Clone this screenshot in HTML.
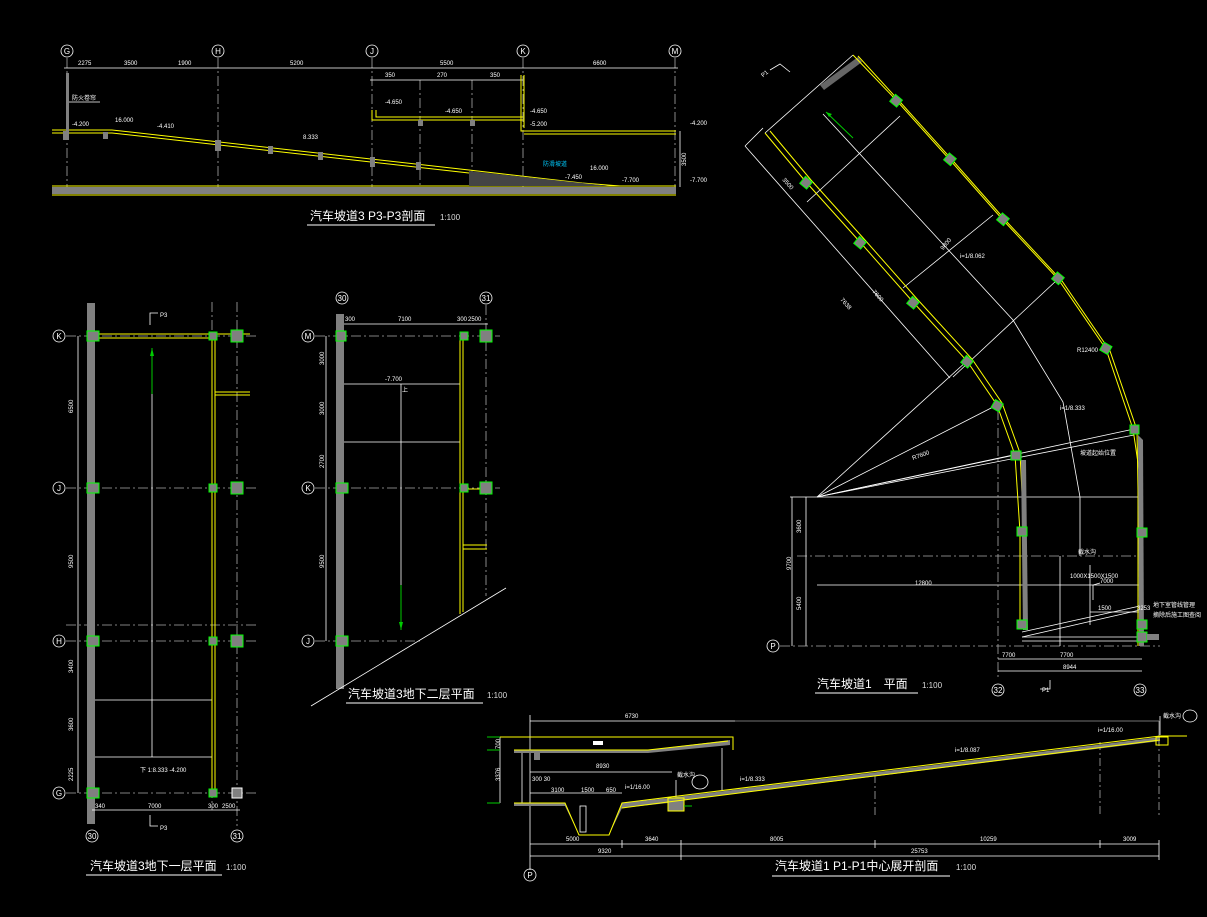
<!DOCTYPE html>
<html><head><meta charset="utf-8"><style>
html,body{margin:0;padding:0;background:#000;}
svg{display:block;}
text{font-family:"Liberation Sans","Noto Sans CJK SC",sans-serif;fill:#fff;}
.t{font-size:12px;}
.s{font-size:6px;}
.c{font-size:8px;text-anchor:middle;}
.sc{font-size:8px;fill:#ddd;}
</style></head><body>
<svg width="1207" height="917" viewBox="0 0 1207 917" xmlns="http://www.w3.org/2000/svg">
<rect width="1207" height="917" fill="#000"/>
<g fill="none" stroke="#fff" stroke-width="0.8">
<g stroke="#aaa" stroke-dasharray="10,3,2,3">
<line x1="67" y1="58" x2="67" y2="190"/><line x1="218" y1="58" x2="218" y2="190"/>
<line x1="372" y1="58" x2="372" y2="190"/><line x1="523" y1="58" x2="523" y2="190"/>
<line x1="675" y1="58" x2="675" y2="190"/><line x1="420" y1="80" x2="420" y2="190"/><line x1="472" y1="80" x2="472" y2="190"/>
</g>
<circle cx="67" cy="51" r="6"/><circle cx="218" cy="51" r="6"/><circle cx="372" cy="51" r="6"/><circle cx="523" cy="51" r="6"/><circle cx="675" cy="51" r="6"/>
<line x1="64" y1="68" x2="678" y2="68"/><line x1="370" y1="80" x2="523" y2="80"/>
<line x1="680" y1="131" x2="680" y2="187"/>
<line x1="66" y1="102" x2="100" y2="102"/>
</g>
<text x="67" y="54" class="c">G</text><text x="218" y="54" class="c">H</text><text x="372" y="54" class="c">J</text><text x="523" y="54" class="c">K</text><text x="675" y="54" class="c">M</text>
<g font-size="6">
<text x="78" y="65" class="s">2275</text><text x="124" y="65" class="s">3500</text><text x="178" y="65" class="s">1900</text><text x="290" y="65" class="s">5200</text>
<text x="440" y="65" class="s">5500</text><text x="593" y="65" class="s">6600</text>
<text x="385" y="77" class="s">350</text><text x="437" y="77" class="s">270</text><text x="490" y="77" class="s">350</text>
<text x="72" y="100" class="s">防火卷帘</text><text x="72" y="126" class="s">-4.200</text><text x="115" y="122" class="s">16.000</text><text x="157" y="128" class="s">-4.410</text>
<text x="303" y="139" class="s">8.333</text><text x="385" y="104" class="s">-4.650</text><text x="445" y="113" class="s">-4.650</text><text x="530" y="113" class="s">-4.650</text><text x="530" y="126" class="s">-5.200</text>
<text x="690" y="125" class="s">-4.200</text><text x="690" y="182" class="s">-7.700</text><text x="678" y="162" class="s" transform="rotate(-90 684 160)">3500</text>
<text x="543" y="166" class="s" style="fill:#0cf">防滑坡道</text><text x="590" y="170" class="s">16.000</text><text x="565" y="179" class="s">-7.450</text><text x="622" y="182" class="s">-7.700</text>
</g>
<rect x="52" y="187" width="624" height="7" fill="#808080"/>
<g stroke="#ff0" stroke-width="1" fill="none">
<line x1="52" y1="186" x2="676" y2="186"/><line x1="52" y1="195" x2="676" y2="195"/>
<polyline points="52,130 112,130 469,170 582,183 620,186"/>
<polyline points="52,133 112,133 469,173"/>
<polyline points="372,110 372,120 523,120"/><polyline points="376,110 376,117 523,117"/>
<polyline points="521,75 521,131 676,131"/><polyline points="524,75 524,128"/><line x1="524" y1="134" x2="676" y2="134"/>
</g>
<path d="M469 171 L582 183 L610 186 L469 186 Z" fill="#444"/>
<g fill="#808080"><rect x="63" y="131" width="6" height="9"/><rect x="103" y="132" width="5" height="7"/><rect x="215" y="140" width="6" height="11"/><rect x="268" y="146" width="5" height="8"/><rect x="318" y="152" width="5" height="8"/><rect x="370" y="157" width="5" height="10"/><rect x="416" y="162" width="5" height="8"/><rect x="418" y="120" width="5" height="6"/><rect x="470" y="120" width="5" height="6"/><rect x="66" y="73" width="3" height="60"/></g>
<text x="310" y="220" class="t">汽车坡道3 P3-P3剖面</text><text x="440" y="220" class="sc">1:100</text>
<line x1="307" y1="225" x2="435" y2="225" stroke="#fff"/>

<g stroke="#aaa" stroke-dasharray="10,3,2,3" stroke-width="0.8" fill="none">
<line x1="66" y1="336" x2="259" y2="336"/><line x1="66" y1="488" x2="259" y2="488"/><line x1="66" y1="641" x2="259" y2="641"/><line x1="66" y1="793" x2="259" y2="793"/><line x1="66" y1="625" x2="259" y2="625"/>
<line x1="212" y1="302" x2="212" y2="810"/><line x1="237" y1="302" x2="237" y2="826"/>
</g>
<rect x="87" y="303" width="8" height="521" fill="#808080"/>
<g stroke="#fff" stroke-width="0.8" fill="none">
<circle cx="59" cy="336" r="6"/><circle cx="59" cy="488" r="6"/><circle cx="59" cy="641" r="6"/><circle cx="59" cy="793" r="6"/>
<circle cx="92" cy="836" r="6"/><circle cx="237" cy="836" r="6"/>
<line x1="78" y1="336" x2="78" y2="793"/><line x1="92" y1="810" x2="240" y2="810"/>
<line x1="95" y1="700" x2="212" y2="700"/><line x1="95" y1="757" x2="212" y2="757"/>
<line x1="152" y1="394" x2="152" y2="757"/>
<polyline points="150,325 150,313 158,313"/><polyline points="150,815 150,826 158,826"/>
</g>
<text x="59" y="339" class="c">K</text><text x="59" y="491" class="c">J</text><text x="59" y="644" class="c">H</text><text x="59" y="796" class="c">G</text><text x="92" y="839" class="c">30</text><text x="237" y="839" class="c">31</text>
<line x1="152" y1="348" x2="152" y2="394" stroke="#0c0"/><path d="M150 356 L152 348 L154 356Z" fill="#0c0"/>
<g stroke="#ff0" fill="none" stroke-width="1">
<line x1="95" y1="334" x2="250" y2="334"/><line x1="95" y1="338" x2="212" y2="338"/>
<line x1="212" y1="338" x2="212" y2="793"/><line x1="215" y1="338" x2="215" y2="793"/>
<line x1="215" y1="392" x2="250" y2="392"/><line x1="215" y1="395" x2="250" y2="395"/>
</g>
<g fill="#808080" stroke="#0f0" stroke-width="1">
<rect x="87" y="331" width="12" height="10"/><rect x="87" y="483" width="12" height="10"/><rect x="87" y="636" width="12" height="10"/><rect x="87" y="788" width="12" height="10"/>
<rect x="209" y="332" width="8" height="8"/><rect x="209" y="484" width="8" height="8"/><rect x="209" y="637" width="8" height="8"/><rect x="209" y="789" width="8" height="8"/>
<rect x="231" y="330" width="12" height="12"/><rect x="231" y="482" width="12" height="12"/><rect x="231" y="635" width="12" height="12"/>
</g>
<rect x="232" y="788" width="10" height="10" fill="#808080" stroke="#fff"/>
<g>
<text x="95" y="808" class="s">340</text><text x="148" y="808" class="s">7000</text><text x="208" y="808" class="s">300</text><text x="222" y="808" class="s">2500</text>
<text x="160" y="317" class="s">P3</text><text x="160" y="830" class="s">P3</text><text x="140" y="772" class="s">下 1:8.333 -4.200</text>
<text x="70" y="410" class="s" transform="rotate(-90 73 410)">6500</text><text x="70" y="565" class="s" transform="rotate(-90 73 565)">9500</text><text x="70" y="670" class="s" transform="rotate(-90 73 670)">3400</text><text x="70" y="728" class="s" transform="rotate(-90 73 728)">3600</text><text x="70" y="778" class="s" transform="rotate(-90 73 778)">2225</text>
</g>
<text x="90" y="870" class="t">汽车坡道3地下一层平面</text><text x="226" y="870" class="sc">1:100</text>
<line x1="86" y1="875" x2="222" y2="875" stroke="#fff"/>

<g stroke="#aaa" stroke-dasharray="10,3,2,3" stroke-width="0.8" fill="none">
<line x1="315" y1="336" x2="500" y2="336"/><line x1="315" y1="488" x2="500" y2="488"/><line x1="315" y1="641" x2="420" y2="641"/>
<line x1="486" y1="305" x2="486" y2="596"/>
</g>
<rect x="336" y="314" width="8" height="375" fill="#808080"/>
<g stroke="#fff" stroke-width="0.8" fill="none">
<circle cx="308" cy="336" r="6"/><circle cx="308" cy="488" r="6"/><circle cx="308" cy="641" r="6"/>
<circle cx="342" cy="298" r="6"/><circle cx="486" cy="298" r="6"/>
<line x1="326" y1="336" x2="326" y2="641"/><line x1="344" y1="324" x2="488" y2="324"/>
<line x1="344" y1="384" x2="460" y2="384"/><line x1="344" y1="442" x2="460" y2="442"/>
<line x1="401" y1="384" x2="401" y2="585"/>
<line x1="311" y1="706" x2="506" y2="588"/>
</g>
<text x="308" y="339" class="c">M</text><text x="308" y="491" class="c">K</text><text x="308" y="644" class="c">J</text><text x="342" y="301" class="c">30</text><text x="486" y="301" class="c">31</text>
<line x1="401" y1="585" x2="401" y2="630" stroke="#0c0"/><path d="M399 622 L401 630 L403 622Z" fill="#0c0"/>
<g stroke="#ff0" fill="none" stroke-width="1">
<line x1="460" y1="336" x2="460" y2="614"/><line x1="463" y1="336" x2="463" y2="612"/>
<line x1="463" y1="545" x2="487" y2="545"/><line x1="463" y1="549" x2="487" y2="549"/>
<line x1="463" y1="489" x2="486" y2="489"/>
</g>
<g fill="#808080" stroke="#0f0" stroke-width="1">
<rect x="336" y="331" width="10" height="10"/><rect x="336" y="483" width="12" height="10"/><rect x="336" y="636" width="12" height="10"/>
<rect x="460" y="332" width="8" height="8"/><rect x="460" y="484" width="8" height="8"/>
<rect x="480" y="330" width="12" height="12"/><rect x="480" y="482" width="12" height="12"/>
</g>
<g>
<text x="345" y="321" class="s">300</text><text x="398" y="321" class="s">7100</text><text x="457" y="321" class="s">300</text><text x="468" y="321" class="s">2500</text>
<text x="385" y="381" class="s">-7.700</text><text x="402" y="392" class="s">上</text>
<text x="318" y="365" class="s" transform="rotate(-90 321 362)">3000</text><text x="318" y="415" class="s" transform="rotate(-90 321 412)">3000</text><text x="318" y="468" class="s" transform="rotate(-90 321 465)">2700</text><text x="318" y="568" class="s" transform="rotate(-90 321 565)">9500</text>
</g>
<text x="348" y="698" class="t">汽车坡道3地下二层平面</text><text x="487" y="698" class="sc">1:100</text>
<line x1="346" y1="703" x2="483" y2="703" stroke="#fff"/>

<g stroke="#fff" stroke-width="0.8" fill="none">
<line x1="765" y1="133" x2="853" y2="55"/>
<line x1="807" y1="202" x2="900" y2="116"/><line x1="903" y1="288" x2="993" y2="215"/><line x1="953" y1="377" x2="1057" y2="280"/>
<polyline points="823,114 1013,320 1063,402 1080,497 1080,556"/>
<line x1="745" y1="146" x2="950" y2="378"/>
<line x1="745" y1="146" x2="763" y2="128"/>
<line x1="817" y1="497" x2="997" y2="405"/><line x1="817" y1="497" x2="1015" y2="455"/><line x1="817" y1="497" x2="1134" y2="429"/><line x1="817" y1="497" x2="1134" y2="435"/><line x1="817" y1="497" x2="967" y2="361"/>
<line x1="790" y1="497" x2="1142" y2="497"/>
<line x1="797" y1="556" x2="1142" y2="556" stroke-dasharray="10,3,2,3" stroke="#aaa"/>
<line x1="817" y1="585" x2="1140" y2="585"/>
<line x1="792" y1="497" x2="792" y2="646"/><line x1="806" y1="497" x2="806" y2="646"/>
<line x1="780" y1="646" x2="1160" y2="646" stroke-dasharray="10,3,2,3" stroke="#aaa"/>
<line x1="998" y1="410" x2="998" y2="680" stroke-dasharray="10,3,2,3" stroke="#aaa"/>
<line x1="998" y1="659" x2="1142" y2="659"/><line x1="998" y1="671" x2="1142" y2="671"/>
<circle cx="773" cy="646" r="6"/><circle cx="998" cy="690" r="6"/><circle cx="1140" cy="690" r="6"/>
<line x1="1060" y1="556" x2="1060" y2="646"/><line x1="1090" y1="565" x2="1090" y2="625"/>
<polyline points="1100,583 1093,585 1093,600"/>
<line x1="1090" y1="612" x2="1140" y2="612"/>
<line x1="1022" y1="632" x2="1140" y2="606"/><line x1="1022" y1="637" x2="1140" y2="610"/>
<line x1="1022" y1="637" x2="1140" y2="637"/><line x1="1022" y1="641" x2="1140" y2="641"/>
<polyline points="1040,689 1050,689 1050,680"/>
<polyline points="770,70 780,64 790,72"/>
</g>
<text x="773" y="649" class="c">P</text><text x="998" y="693" class="c">32</text><text x="1140" y="693" class="c">33</text>
<path d="M820 85 L858 57 L862 62 L824 90 Z" fill="#666"/>
<line x1="826" y1="112" x2="853" y2="138" stroke="#0c0"/><path d="M826 112 L832 114 L829 117Z" fill="#0c0"/>
<g stroke="#ff0" stroke-width="1" fill="none">
<polyline points="853,55 897,101 950,160 1003,220 1058,279 1106,349 1133,429 1142,490 1142,646"/>
<polyline points="858,56 901,103 954,162 1007,222 1062,281 1110,351 1137,430 1138,490 1138,646"/>
<polyline points="765,133 806,182 860,242 913,302 967,361 997,405 1015,455 1020,532 1020,629"/>
<polyline points="770,131 811,180 865,240 918,300 972,359 1002,403 1020,453 1024,532 1024,629"/>
</g>
<path d="M1021 460 L1026 460 L1028 630 L1023 630Z" fill="#808080"/><path d="M1138 435 L1143 440 L1144 646 L1139 646Z" fill="#808080"/>
<g fill="#808080" stroke="#0f0" stroke-width="1">
<rect x="892" y="96" width="9" height="9" transform="rotate(40 896 100)"/><rect x="945" y="155" width="9" height="9" transform="rotate(40 950 160)"/><rect x="998" y="215" width="9" height="9" transform="rotate(40 1003 220)"/><rect x="1053" y="274" width="9" height="9" transform="rotate(40 1058 279)"/><rect x="1101" y="344" width="9" height="9" transform="rotate(30 1106 349)"/>
<rect x="802" y="178" width="9" height="9" transform="rotate(40 806 182)"/><rect x="856" y="238" width="9" height="9" transform="rotate(40 860 242)"/><rect x="909" y="298" width="9" height="9" transform="rotate(40 913 302)"/><rect x="963" y="357" width="9" height="9" transform="rotate(40 967 361)"/><rect x="993" y="401" width="9" height="9" transform="rotate(30 997 405)"/>
<rect x="1011" y="451" width="10" height="9"/><rect x="1130" y="425" width="9" height="9"/>
<rect x="1017" y="527" width="10" height="9"/><rect x="1137" y="528" width="10" height="9"/>
<rect x="1017" y="620" width="10" height="9"/><rect x="1137" y="620" width="10" height="9"/><rect x="1137" y="632" width="10" height="10"/>
</g>
<rect x="1147" y="634" width="12" height="6" fill="#808080"/>
<g>
<text x="760" y="75" class="s" transform="rotate(-40 765 72)">P1</text>
<text x="960" y="258" class="s">i=1/8.062</text><text x="940" y="248" class="s" transform="rotate(-50 944 246)">9800</text>
<text x="1060" y="410" class="s">i=1/8.333</text><text x="1077" y="352" class="s">R12400</text><text x="913" y="460" class="s" transform="rotate(-20 913 460)">R7600</text>
<text x="1080" y="455" class="s">坡道起始位置</text><text x="1078" y="554" class="s">截水沟</text><text x="1070" y="578" class="s">1000X1500X1500</text>
<text x="1153" y="607" class="s">地下室管线管理</text><text x="1153" y="617" class="s">摘除后施工图查阅</text>
<text x="1100" y="583" class="s">7000</text><text x="1098" y="610" class="s">1500</text><text x="1137" y="610" class="s">3253</text>
<text x="915" y="585" class="s">12800</text><text x="1002" y="657" class="s">7700</text><text x="1060" y="657" class="s">7700</text><text x="1063" y="669" class="s">8944</text>
<text x="795" y="533" class="s" transform="rotate(-90 798 530)">3600</text><text x="795" y="610" class="s" transform="rotate(-90 798 607)">5400</text><text x="785" y="570" class="s" transform="rotate(-90 788 567)">9700</text>
<text x="872" y="292" class="s" transform="rotate(48 872 292)">7600</text><text x="840" y="300" class="s" transform="rotate(48 840 300)">7638</text><text x="782" y="180" class="s" transform="rotate(48 782 180)">3500</text>
<text x="1042" y="692" class="s">P1</text>
</g>
<text x="817" y="688" class="t">汽车坡道1　平面</text><text x="922" y="688" class="sc">1:100</text>
<line x1="815" y1="693" x2="918" y2="693" stroke="#fff"/>

<g stroke="#fff" stroke-width="0.8" fill="none">
<line x1="530" y1="721" x2="735" y2="721"/><line x1="735" y1="721" x2="1159" y2="721" stroke="#999"/>
<line x1="1159" y1="721" x2="1159" y2="745" stroke="#999"/>
<line x1="530" y1="715" x2="530" y2="870"/>
<line x1="530" y1="844" x2="1159" y2="844"/><line x1="530" y1="856" x2="1159" y2="856"/>
<line x1="622" y1="840" x2="622" y2="848"/><line x1="681" y1="840" x2="681" y2="860"/><line x1="875" y1="840" x2="875" y2="848"/><line x1="1100" y1="840" x2="1100" y2="848"/><line x1="1159" y1="840" x2="1159" y2="860"/>
<circle cx="530" cy="875" r="6"/>
<line x1="530" y1="772" x2="672" y2="772"/><line x1="530" y1="793" x2="622" y2="793"/>
<line x1="500" y1="737" x2="500" y2="803"/><line x1="522" y1="750" x2="522" y2="803"/>
<line x1="722" y1="748" x2="722" y2="790"/>
<line x1="676" y1="780" x2="676" y2="798"/>
<ellipse cx="700" cy="782" rx="8" ry="7"/><ellipse cx="1190" cy="716" rx="7" ry="6"/>
<line x1="1160" y1="716" x2="1160" y2="735"/>
</g>
<text x="530" y="878" class="c">P</text>
<g stroke="#aaa" stroke-dasharray="8,3,2,3" stroke-width="0.8"><line x1="875" y1="775" x2="875" y2="815"/><line x1="1100" y1="742" x2="1100" y2="815"/><line x1="1159" y1="738" x2="1159" y2="815"/></g>
<path d="M514 750 L648 750 L730 740 L730 745 L648 753 L540 753 L540 760 L534 760 L534 753 L514 753Z" fill="#808080"/>
<path d="M514 803 L565 803 L579 835 L609 835 L622 803 L668 798 L1160 737 L1160 741 L684 800 L684 811 L668 811 L668 803 L622 808 L609 835 L579 835 L565 806 L514 806Z" fill="#808080"/>
<rect x="580" y="806" width="6" height="26" fill="#000" stroke="#fff" stroke-width="0.8"/>
<g stroke="#ff0" stroke-width="1" fill="none">
<polyline points="500,737 733,737 733,750"/><polyline points="514,750 648,750 728,741"/>
<polyline points="514,803 565,803 579,835 609,835 622,803 1160,736 1187,736"/>
<polyline points="622,808 668,802 1160,740"/>
<rect x="668" y="798" width="16" height="13"/>
<rect x="1156" y="737" width="12" height="8"/>
</g>
<g stroke="#0c0"><line x1="487" y1="737" x2="500" y2="737"/><line x1="487" y1="750" x2="500" y2="750"/><line x1="487" y1="803" x2="500" y2="803"/><line x1="684" y1="806" x2="692" y2="806"/></g>
<rect x="593" y="741" width="10" height="4" fill="#fff"/>
<g>
<text x="625" y="718" class="s">6730</text><text x="596" y="768" class="s">8930</text><text x="532" y="781" class="s">300 30</text><text x="551" y="792" class="s">3100</text><text x="581" y="792" class="s">1500</text><text x="606" y="792" class="s">650</text>
<text x="625" y="789" class="s">i=1/16.00</text><text x="740" y="781" class="s">i=1/8.333</text><text x="955" y="752" class="s">i=1/8.087</text><text x="1098" y="732" class="s">i=1/16.00</text>
<text x="677" y="777" class="s">截水沟</text><text x="1163" y="718" class="s">截水沟</text>
<text x="566" y="841" class="s">5000</text><text x="645" y="841" class="s">3640</text><text x="770" y="841" class="s">8005</text><text x="980" y="841" class="s">10259</text><text x="1123" y="841" class="s">3009</text>
<text x="598" y="853" class="s">9320</text><text x="911" y="853" class="s">25753</text>
<text x="493" y="748" class="s" transform="rotate(-90 497 745)">700</text><text x="493" y="780" class="s" transform="rotate(-90 497 777)">3376</text>
</g>
<text x="775" y="870" class="t">汽车坡道1 P1-P1中心展开剖面</text><text x="956" y="870" class="sc">1:100</text>
<line x1="772" y1="876" x2="950" y2="876" stroke="#fff"/>
</svg>
</body></html>
